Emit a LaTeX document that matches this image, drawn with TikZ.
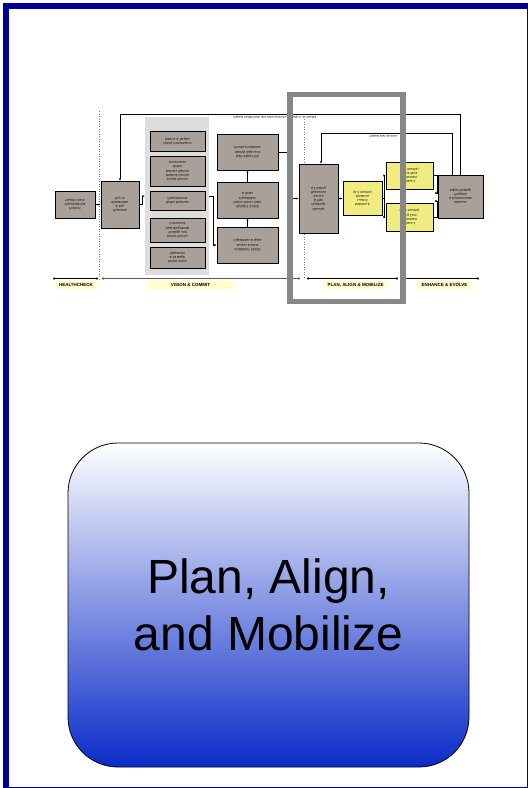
\documentclass[tikz,border=0pt]{standalone}
\usepackage{fontspec}
\setmainfont{Liberation Sans}
\usepackage{graphicx}
\usetikzlibrary{arrows.meta}

\definecolor{framenavy}{RGB}{0,0,150}
\definecolor{framegray}{RGB}{135,135,135}
\definecolor{boxgray}{RGB}{169,160,154}
\definecolor{stepyellow}{RGB}{240,236,128}
\definecolor{panelgray}{RGB}{221,221,221}
\definecolor{tagyellow}{RGB}{255,255,204}
\definecolor{shadeblue}{RGB}{10,43,200}
\definecolor{shademid}{RGB}{212,214,245}

% box texts are printed upside down in the thumbnail
\newcommand{\upsd}[1]{\scalebox{1}[-1]{\begin{tabular}{@{}c@{}}#1\end{tabular}}}

\tikzset{
  gbox/.style={draw, line width=0.8pt, fill=boxgray, inner sep=0pt,
    font=\fontsize{3.2}{4.2}\selectfont},
  ybox/.style={gbox, fill=stepyellow},
  link/.style={line width=0.5pt, -{Latex[length=2.2pt,width=2pt]}},
  phase/.style={line width=0.6pt, {Circle[length=2.2pt]}-{Circle[length=2.2pt]}},
  tag/.style={fill=tagyellow, inner sep=0pt, minimum height=8pt,
    font=\fontsize{4.5}{5}\selectfont\bfseries},
  sep/.style={gray, dotted, line width=0.5pt},
  note/.style={inner sep=0pt, font=\fontsize{3}{3.4}\selectfont}
}

\begin{document}
\begin{tikzpicture}[x=1pt,y=-1pt]
  \useasboundingbox (0,0) rectangle (528,788);
  \fill[white] (0,0) rectangle (528,788);
  \draw[framenavy, line width=5.5pt] (6.2,5.8) rectangle (530,789.5);

  % separators
  \draw[sep] (99,111) -- (99,279);
  \draw[sep] (304,119) -- (304,279);

  % healthcheck
  \node[gbox, minimum width=40, minimum height=27] (hc) at (75,204.5)
    {\upsd{Perform\\Organizational\\Health Check}};
  \node[gbox, minimum width=38, minimum height=47] (buyin) at (120,204.5)
    {\upsd{Executive\\\& Key\\Stakeholder\\Buy-in}};

  % vision & commit
  \node[fill=panelgray, minimum width=64, minimum height=158, inner sep=0pt] (panel) at (177,196) {};
  \node[gbox, minimum width=55, minimum height=20] (vpa) at (177.5,141)
    {\upsd{Define Performance\\Metrics \& Targets}};
  \node[gbox, minimum width=55, minimum height=30] (vpb) at (177.5,171)
    {\upsd{Create Service\\Model \& Service\\Delivery Options\\Define\\Governance}};
  \node[gbox, minimum width=55, minimum height=19] (vpc) at (177.5,200.5)
    {\upsd{Define Business\\Requirements}};
  \node[gbox, minimum width=55, minimum height=24] (vpd) at (177.5,230)
    {\upsd{Define Service\\Strategy and\\Operating Model\\Framework}};
  \node[gbox, minimum width=55, minimum height=21] (vpe) at (177.5,257.5)
    {\upsd{Define Vision\\\& Strategic\\Objectives}};

  \node[gbox, minimum width=61, minimum height=36] (cur) at (247.5,245)
    {\upsd{CURRENT STATE\\Assess Current\\Capabilities \& Gaps}};
  \node[gbox, minimum width=61, minimum height=36] (tgt) at (247.5,200)
    {\upsd{TARGET STATE\\Define Future State\\Capabilities\\\& Roles}};
  \node[gbox, minimum width=61, minimum height=36] (gap) at (247.5,152)
    {\upsd{GAP ANALYSIS\\Identify Gaps and\\Prioritize Initiatives}};

  % plan, align & mobilize
  \node[gbox, minimum width=39, minimum height=69] (plan) at (318.5,198.5)
    {\upsd{Develop\\Roadmap\\\& Plan\\Secure\\Resources\\\& Funding}};
  \node[ybox, minimum width=39, minimum height=34] (mob) at (362.5,198.5)
    {\upsd{Mobilize \&\\Launch\\Initiatives\\(0-3 months)}};
  \node[ybox, minimum width=47, minimum height=27] (quick) at (409.5,175.5)
    {\upsd{Phase 2\\Implement\\Quick Wins\\(3-6 months)}};
  \node[ybox, minimum width=47, minimum height=28] (long) at (409.5,217)
    {\upsd{Phase 3\\Implement\\Long Term\\(6-12 months)}};

  % enhance & evolve
  \node[gbox, minimum width=45, minimum height=43] (rev) at (460.5,196.5)
    {\upsd{Measure\\\& Communicate\\Progress\\Adjust Strategy}};

  % connectors
  \draw[link] (hc.east) -- (buyin.west);
  \draw[link] (buyin.east) -- ++(3,0) |- (panel.west);
  \draw[link] (panel.east) -- ++(4,0) |- (cur.west);
  \draw[link] (cur.north) -- (tgt.south);
  \draw[link] (tgt.north) -- (gap.south);
  \draw[link] (gap.east) -- ++(10,0) |- (plan.west);
  \draw[link] (plan.east) -- (mob.west);
  \draw[link] (mob.east) -- ++(2,0) |- (quick.west);
  \draw[link] (mob.east) -- ++(2,0) |- (long.west);
  \draw[link] (quick.east) -- ++(4,0) |- ([yshift=3.5pt]rev.west);
  \draw[link] (long.east) -- ++(4,0) |- ([yshift=-4.5pt]rev.west);

  % feedback loops
  \coordinate (outer) at (0,114);
  \coordinate (inner) at (0,133);
  \draw[link] (rev.north) -- (rev.north |- outer) -| (buyin.north);
  \draw[link] ([xshift=-8.5pt]rev.north) -- ([xshift=-8.5pt]rev.north |- inner)
    -| ([xshift=2.5pt]plan.north);
  \node[note] (outertxt) at (275,117.5)
    {\upsd{Repeat healthcheck and vision process annually or as needed}};
  \node[note] (innertxt) at (383.5,136)
    {\upsd{Repeat plan process}};

  % phases
  \coordinate (p0) at (53,278.5);
  \coordinate (p1) at (98,278.5);
  \coordinate (p2) at (102,278.5);
  \coordinate (p3) at (300,278.5);
  \coordinate (p4) at (307,278.5);
  \coordinate (p5) at (398,278.5);
  \coordinate (p6) at (401,278.5);
  \coordinate (p7) at (479,278.5);
  \draw[phase] (p0) -- (p1);
  \draw[phase, line width=1.3pt, gray!70!black] (p2) -- (p3);
  \draw[phase] (p4) -- (p5);
  \draw[phase] (p6) -- (p7);

  \node[tag, minimum width=42] (hctag) at (76,285) {HEALTHCHECK};
  \node[tag, minimum width=85] (vctag) at (190.5,285) {VISION \& COMMIT};
  \node[tag, minimum width=65] (pamtag) at (355.5,285) {PLAN, ALIGN \& MOBILIZE};
  \node[tag, minimum width=55] (eetag) at (444.5,285) {ENHANCE \& EVOLVE};

  % highlight frame
  \draw[framegray, line width=5.5pt] (290,94.5) rectangle (403,301.5);

  % title card
  \node[draw, line width=0.8pt, rounded corners=50pt, minimum width=401, minimum height=324,
    top color=white, middle color=shademid, bottom color=shadeblue, align=center,
    font=\fontsize{48}{57}\selectfont] (title) at (268.5,605)
    {Plan, Align,\\and Mobilize};
\end{tikzpicture}
\end{document}
